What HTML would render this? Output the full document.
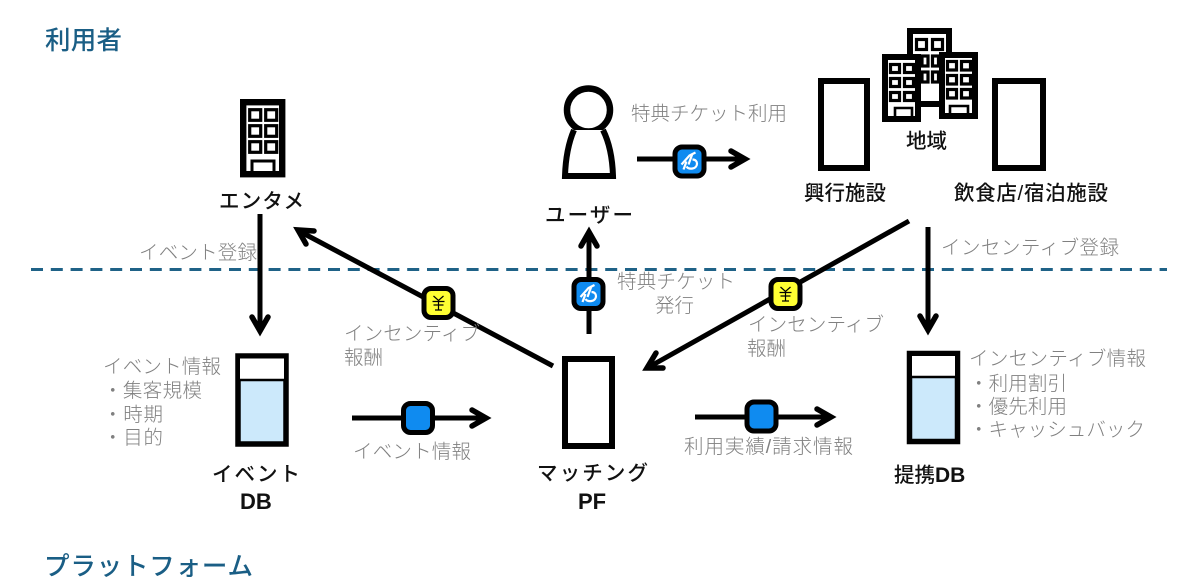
<!DOCTYPE html>
<html lang="ja"><head><meta charset="utf-8"><style>
html,body{margin:0;padding:0;background:#fff;width:1181px;height:586px;overflow:hidden}
svg{display:block}
text{font-family:"Liberation Sans","Noto Sans CJK JP",sans-serif}
.g{font-size:19.5px;fill:#808080;font-weight:300}
.b{font-size:20.5px;fill:#111;font-weight:500}
.l{font-size:22px;fill:#111;font-weight:700}
.h{font-size:25.5px;fill:#1a5e85;font-weight:500}
.ln{stroke:#000;stroke-width:5;fill:none;stroke-linejoin:round}
.hd{stroke:#000;stroke-width:5.5;fill:none;stroke-linejoin:miter;stroke-linecap:round}
.r{fill:#fff;stroke:#000;stroke-width:6}
.w{fill:#fff;stroke:#000;stroke-width:3.2}
.bb{fill:#0f8bf0;stroke:#000;stroke-width:5}
.yb{fill:#ffff33;stroke:#000;stroke-width:5}
.sw{fill:none;stroke:#fff;stroke-width:2.2}
</style></head><body>
<svg width="1181" height="586" viewBox="0 0 1181 586" xmlns="http://www.w3.org/2000/svg">
<defs>
<g id="blue"><rect x="-14.5" y="-14.5" width="29" height="29" rx="7" class="bb"/>
<path class="sw" d="M-8 3 L0 -6 L6 -9 M-6 8 L-3 0 M3 -8 L-1 3 M3 -2 C9 -2 9 6 3 7 C0 7.500 -2 6.500 -3 5"/></g>
<g id="yen"><rect x="-14.5" y="-14.5" width="29" height="29" rx="7" class="yb"/>
<path d="M-5 -7 L0 -2.500 L5 -7 M0 -2.500 V7 M-6 -1.500 H6 M-5 2 H5 M-3.500 7 H3.500" fill="none" stroke="#000" stroke-width="1.200"/></g>
</defs>

<line x1="31" y1="269.500" x2="1167" y2="269.500" stroke="#1f6287" stroke-width="3" stroke-dasharray="12 7.800"/>

<!-- left building -->
<rect x="243.200" y="102.200" width="39" height="72" fill="#fff" stroke="#000" stroke-width="6.400"/>
<g class="w"><rect x="249.700" y="109.700" width="11" height="10.600"/><rect x="265.700" y="109.700" width="11" height="10.600"/><rect x="249.700" y="125.700" width="11" height="10.600"/><rect x="265.700" y="125.700" width="11" height="10.600"/><rect x="249.700" y="141.700" width="11" height="10.600"/><rect x="265.700" y="141.700" width="11" height="10.600"/></g>
<path d="M252 173 V161 H274 V173" fill="none" stroke="#000" stroke-width="3"/>

<!-- person -->
<circle cx="588.500" cy="110" r="21.500" fill="#fff" stroke="#000" stroke-width="6.500"/>
<path d="M574 130 C568 144 565.500 160 565 176 H613 C612.500 160 610 144 603 130" fill="#fff" stroke="#000" stroke-width="6"/>

<!-- hotels -->
<rect x="910" y="31" width="39" height="73" fill="#fff" stroke="#000" stroke-width="6"/>
<g class="w"><rect x="916.500" y="39.500" width="10" height="10"/><rect x="932.500" y="39.500" width="10" height="10"/><rect x="922" y="56" width="6" height="10"/><rect x="932.500" y="56" width="6" height="10"/><rect x="922" y="72" width="6" height="10"/><rect x="932.500" y="72" width="6" height="10"/></g>
<rect x="885" y="57" width="33" height="62" fill="#fff" stroke="#000" stroke-width="6"/>
<g class="w"><rect x="890.500" y="64.500" width="9" height="8"/><rect x="904.500" y="64.500" width="9" height="8"/><rect x="890.500" y="78.500" width="9" height="8"/><rect x="904.500" y="78.500" width="9" height="8"/><rect x="890.500" y="92.500" width="9" height="8"/><rect x="904.500" y="92.500" width="9" height="8"/></g>
<path d="M895 120 V108 H912 V120" fill="none" stroke="#000" stroke-width="2.600"/>
<rect x="942" y="55" width="33" height="61" fill="#fff" stroke="#000" stroke-width="6"/>
<g class="w"><rect x="947.500" y="61.500" width="9" height="8.500"/><rect x="961.500" y="61.500" width="9" height="8.500"/><rect x="947.500" y="75.500" width="9" height="8.500"/><rect x="961.500" y="75.500" width="9" height="8.500"/><rect x="947.500" y="89.500" width="9" height="8.500"/><rect x="961.500" y="89.500" width="9" height="8.500"/></g>
<path d="M950 117 V106 H968 V117" fill="none" stroke="#000" stroke-width="2.600"/>

<rect x="821" y="81" width="46" height="87" class="r"/>
<rect x="995" y="81" width="48" height="87" class="r"/>

<!-- arrows -->
<g class="ln">
<path d="M637 159 H744"/>
<path d="M260 214 V330"/>
<path d="M589 334 V233"/>
<path d="M553 366 L299 231"/>
<path d="M909 221 L649 367"/>
<path d="M928 227 V328"/>
<path d="M352 418 H485"/>
<path d="M695 417 H830"/>
</g>
<g class="hd">
<path d="M731 151 L745 159 L731 167"/>
<path d="M252 317 L260 331 L268 317"/>
<path d="M581 246 L589 232 L597 246"/>
<path d="M314 231 L298 230 L306 244"/>
<path d="M656 353 L647 368 L663 368"/>
<path d="M920 316 L928 330 L936 316"/>
<path d="M472 410 L486 418 L472 426"/>
<path d="M817 409 L831 417 L817 425"/>
</g>

<use href="#blue" x="689.500" y="161.500"/>
<use href="#blue" x="588.500" y="294"/>
<use href="#yen" x="438.500" y="303"/>
<use href="#yen" x="785.500" y="294"/>
<rect x="403.500" y="403.500" width="29" height="29" rx="7" fill="#0f8bf0" stroke="#000" stroke-width="5"/>
<rect x="747" y="402" width="29" height="29" rx="7" fill="#0f8bf0" stroke="#000" stroke-width="5"/>

<!-- PF -->
<rect x="565" y="359" width="47" height="87" class="r"/>

<!-- DBs -->
<rect x="238" y="356" width="48" height="88" fill="#cce9fb" stroke="#000" stroke-width="5.500"/>
<rect x="240" y="358.500" width="44" height="21" fill="#fff"/>
<line x1="238" y1="380" x2="286" y2="380" stroke="#000" stroke-width="2.500"/>
<rect x="909.500" y="353.500" width="48" height="88" fill="#cce9fb" stroke="#000" stroke-width="5.500"/>
<rect x="912" y="356" width="43" height="20" fill="#fff"/>
<line x1="910" y1="377" x2="957" y2="377" stroke="#000" stroke-width="2.500"/>

<!-- headings -->
<text class="h" x="45" y="49" textLength="77">利用者</text>
<text class="h" x="44" y="575" textLength="209">プラットフォーム</text>

<!-- labels -->
<text class="b" x="219" y="208" textLength="85">エンタメ</text>
<text class="b" x="545" y="222" textLength="88">ユーザー</text>
<text class="b" x="906" y="148" textLength="41">地域</text>
<text class="b" x="804" y="200" textLength="82">興行施設</text>
<text class="b" x="954" y="200" textLength="154">飲食店/宿泊施設</text>
<text class="b" x="212" y="481" textLength="88">イベント</text>
<text class="l" x="240" y="509">DB</text>
<text class="b" x="537" y="480" textLength="111">マッチング</text>
<text class="l" x="578" y="509">PF</text>
<text class="b" x="894" y="482">提携<tspan style="font-weight:700;font-size:21px">DB</tspan></text>

<!-- gray labels -->
<text class="g" x="631" y="120" textLength="156">特典チケット利用</text>
<text class="g" x="139" y="259" textLength="118">イベント登録</text>
<text class="g" x="941" y="254" textLength="178">インセンティブ登録</text>
<text class="g" x="617" y="288" textLength="118">特典チケット</text>
<text class="g" x="655" y="312" textLength="39">発行</text>
<text class="g" x="344" y="340" textLength="136">インセンティブ</text>
<text class="g" x="344" y="364" textLength="39">報酬</text>
<text class="g" x="748" y="331" textLength="136">インセンティブ</text>
<text class="g" x="747" y="355" textLength="39">報酬</text>
<text class="g" x="103" y="373" textLength="118">イベント情報</text>
<text class="g" x="103" y="397" textLength="99">・集客規模</text>
<text class="g" x="103" y="421" textLength="60">・時期</text>
<text class="g" x="103" y="444" textLength="60">・目的</text>
<text class="g" x="353" y="458" textLength="118">イベント情報</text>
<text class="g" x="684" y="453" textLength="169">利用実績/請求情報</text>
<text class="g" x="969" y="365" textLength="177">インセンティブ情報</text>
<text class="g" x="969" y="390" textLength="98">・利用割引</text>
<text class="g" x="969" y="413" textLength="98">・優先利用</text>
<text class="g" x="969" y="436" textLength="176">・キャッシュバック</text>
</svg>
</body></html>
